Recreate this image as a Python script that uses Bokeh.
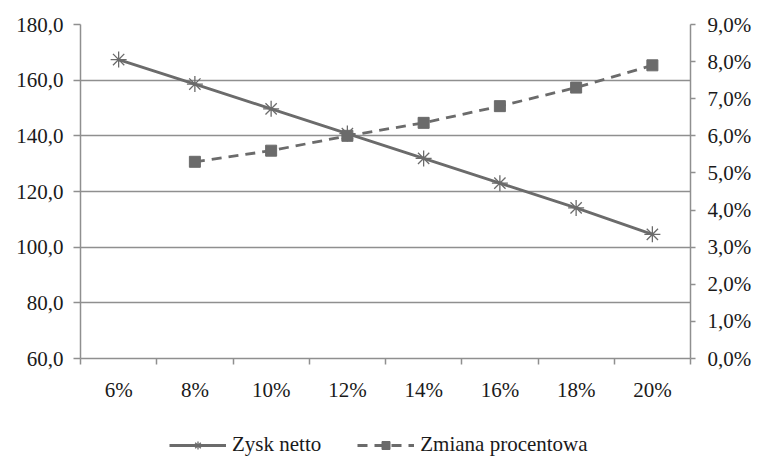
import numpy as np
from bokeh.plotting import figure
from bokeh.layouts import column
from bokeh.models import (Range1d, LinearAxis, FixedTicker, CustomJSTickFormatter,
                          Legend, LegendItem)
from bokeh.embed import file_html
from bokeh.resources import INLINE

# ---- data ----
categories = ["6%", "8%", "10%", "12%", "14%", "16%", "18%", "20%"]
zysk_netto = [167.4, 158.6, 149.7, 140.8, 131.9, 123.0, 114.1, 104.6]
zmiana_procentowa = [np.nan, 5.3, 5.6, 6.0, 6.35, 6.8, 7.3, 7.9]
left_ticks = [60, 80, 100, 120, 140, 160, 180]
right_ticks = [0, 1, 2, 3, 4, 5, 6, 7, 8, 9]

FONT = "Liberation Serif"
FS = "21px"
TXT = "#1a1a1a"
GRID = "#8f8f8f"
LINE = "#6b6b6b"

xs = np.arange(len(categories)) + 0.5

p = figure(width=758, height=420, output_backend="svg", toolbar_location=None,
           x_range=Range1d(0, len(categories)), y_range=Range1d(60, 180),
           min_border_left=80, min_border_right=68, min_border_top=24,
           min_border_bottom=62)
p.outline_line_color = None
p.background_fill_color = "white"
p.border_fill_color = "white"
p.extra_y_ranges = {"pct": Range1d(0, 9)}

# x axis
xa = p.xaxis[0]
xa.ticker = FixedTicker(ticks=list(xs), minor_ticks=list(range(len(categories) + 1)))
xa.formatter = CustomJSTickFormatter(args=dict(labels=categories),
                                     code="return labels[Math.floor(tick)]")
xa.major_tick_out = 0
xa.major_tick_in = 0
xa.minor_tick_out = 6
xa.minor_tick_in = 0
xa.minor_tick_line_color = GRID
xa.minor_tick_line_width = 1.5
xa.axis_line_color = GRID
xa.axis_line_width = 1.5
xa.major_label_standoff = 13
xa.major_label_text_font = FONT
xa.major_label_text_font_size = FS
xa.major_label_text_color = TXT

# left axis
ya = p.yaxis[0]
ya.ticker = FixedTicker(ticks=left_ticks)
ya.formatter = CustomJSTickFormatter(code="return tick.toFixed(1).replace('.', ',')")
ya.minor_tick_out = 0
ya.minor_tick_in = 0
ya.major_tick_in = 0
ya.major_tick_out = 7
ya.major_tick_line_color = GRID
ya.major_tick_line_width = 1.5
ya.axis_line_color = GRID
ya.axis_line_width = 1.5
ya.major_label_standoff = 10
ya.major_label_text_font = FONT
ya.major_label_text_font_size = FS
ya.major_label_text_color = TXT

# right axis
ra = LinearAxis(y_range_name="pct", ticker=FixedTicker(ticks=right_ticks),
                formatter=CustomJSTickFormatter(
                    code="return tick.toFixed(1).replace('.', ',') + '%'"))
ra.minor_tick_out = 0
ra.minor_tick_in = 0
ra.major_tick_in = 0
ra.major_tick_out = 5
ra.major_tick_line_color = GRID
ra.major_tick_line_width = 1.5
ra.axis_line_color = GRID
ra.axis_line_width = 1.5
ra.major_label_standoff = 12
ra.major_label_text_font = FONT
ra.major_label_text_font_size = FS
ra.major_label_text_color = TXT
p.add_layout(ra, "right")

p.xgrid.visible = False
p.ygrid.grid_line_color = GRID
p.ygrid.grid_line_width = 1.5

line1 = dict(line_color=LINE, line_width=2.8)
mark1 = dict(marker="asterisk", size=16, line_color=LINE, line_width=1.3)
line2 = dict(line_color=LINE, line_width=2.8, line_dash="10 7")
mark2 = dict(marker="square", size=11, fill_color=LINE, line_color=LINE)

# series
p.line(xs, zysk_netto, **line1)
p.scatter(xs, zysk_netto, **mark1)
p.line(xs, zmiana_procentowa, y_range_name="pct", **line2)
p.scatter(xs, zmiana_procentowa, y_range_name="pct", **mark2)

# legend strip below the chart (same series, drawn off-range so only the legend shows)
lp = figure(width=758, height=37, output_backend="svg", toolbar_location=None,
            x_range=Range1d(-20, -19), y_range=Range1d(-20, -19),
            x_axis_location=None, y_axis_location=None, min_border=0)
lp.grid.visible = False
lp.outline_line_color = None
lp.background_fill_color = "white"
lp.border_fill_color = "white"
lr1 = lp.line(xs, zysk_netto, **line1)
ls1 = lp.scatter(xs, zysk_netto, **mark1)
lr2 = lp.line(xs, zmiana_procentowa, **line2)
ls2 = lp.scatter(xs, zmiana_procentowa, **mark2)

legend = Legend(items=[LegendItem(label="Zysk netto", renderers=[lr1, ls1]),
                       LegendItem(label="Zmiana procentowa", renderers=[lr2, ls2])],
                orientation="horizontal", location=(89, 0),
                label_text_font=FONT, label_text_font_size=FS, label_text_color=TXT,
                glyph_width=57, glyph_height=20, label_height=20, label_standoff=6,
                spacing=36, padding=0, margin=0, border_line_color=None,
                background_fill_alpha=0)
lp.add_layout(legend, "center")

layout = column(p, lp, spacing=0)
open("out.html", "w").write(file_html(layout, INLINE))
